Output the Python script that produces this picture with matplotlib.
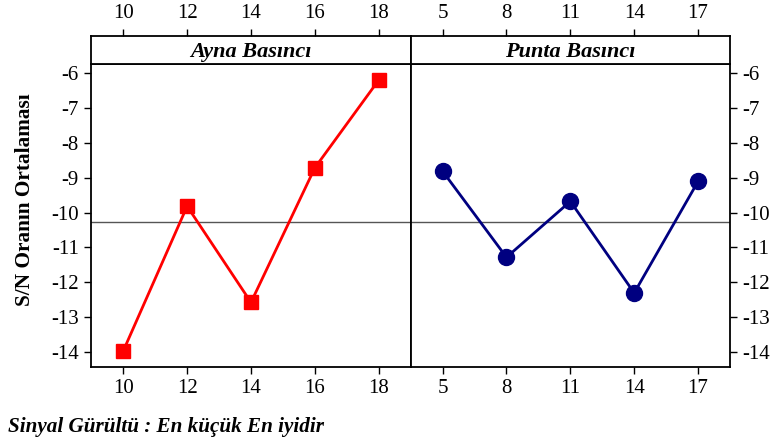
import matplotlib
matplotlib.use("Agg")
import matplotlib.pyplot as plt

plt.rcParams['font.family'] = ['Liberation Serif', 'DejaVu Serif']

# Data
ayna_x = [10, 12, 14, 16, 18]
ayna_y = [-13.96, -9.82, -12.57, -8.72, -6.21]
punta_x = [5, 8, 11, 14, 17]
punta_y = [-8.82, -11.28, -9.68, -12.30, -9.11]
mean_sn = -10.26
yticks = [-6, -7, -8, -9, -10, -11, -12, -13, -14]
titles = ["Ayna Basıncı", "Punta Basıncı"]
ylabel = "S/N Oranın Ortalaması"
footer = "Sinyal Gürültü : En küçük En iyidir"

W, H = 778, 441
fig = plt.figure(figsize=(W / 100, H / 100), dpi=100)

def rect(x0, y0, x1, y1):
    return [x0 / W, 1 - y1 / H, (x1 - x0) / W, (y1 - y0) / H]

panels = [
    (91.3, 410.7, ayna_x, ayna_y, 'red', 's', 10, (9, 19), titles[0], 'left'),
    (410.7, 730.0, punta_x, punta_y, '#000080', 'o', 11.5, (3.5, 18.5), titles[1], 'right'),
]
top, strip_bot, bot = 36.0, 64.3, 366.7
ylim = (-14.41, -5.76)
tfs = 15

for x0, x1, xs, ys, col, mk, ms, xl, title, side in panels:
    ax = fig.add_axes(rect(x0, strip_bot, x1, bot))
    ax.plot(xs, ys, color=col, lw=2, marker=mk, ms=ms, zorder=3)
    ax.axhline(mean_sn, color='#555555', lw=1, zorder=2)
    ax.set_xlim(*xl)
    ax.set_ylim(*ylim)
    ax.set_xticks(xs)
    ax.set_yticks(yticks)
    ax.tick_params(axis='both', labelsize=tfs, length=5, width=1, pad=4, direction='out')
    if side == 'left':
        ax.yaxis.tick_left()
    else:
        ax.yaxis.tick_right()
    for s in ax.spines.values():
        s.set_linewidth(1.3)
    ax.set_yticklabels([str(v) for v in yticks])

    sx = fig.add_axes(rect(x0, top, x1, strip_bot))
    sx.set_xlim(*xl)
    sx.set_ylim(0, 1)
    sx.set_yticks([])
    sx.xaxis.tick_top()
    sx.set_xticks(xs)
    sx.tick_params(axis='x', labelsize=tfs, length=5, width=1, pad=4, direction='out')
    for s in sx.spines.values():
        s.set_linewidth(1.3)
    sx.text(0.5, 0.45, title, transform=sx.transAxes, ha='center', va='center',
            fontsize=16, fontweight='bold', fontstyle='italic')

fig.text(25 / W, 1 - 200 / H, ylabel, rotation=90, ha='center', va='center',
         fontsize=15.3, fontweight='bold')
fig.text(8 / W, 1 - 427 / H, footer, ha='left', va='center',
         fontsize=15.2, fontweight='bold', fontstyle='italic')

fig.savefig("out.png", dpi=100)
